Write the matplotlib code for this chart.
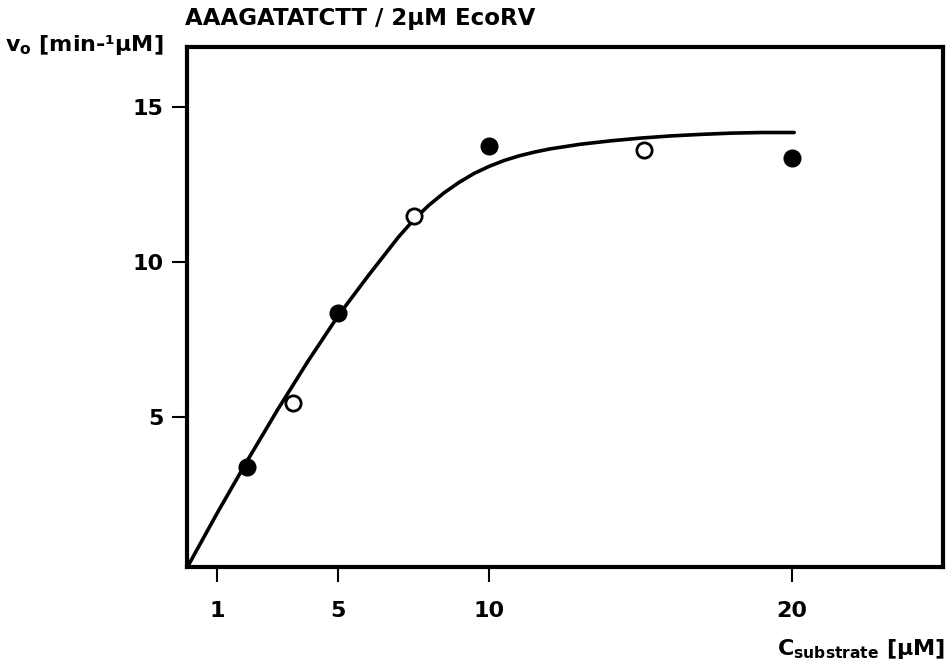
import numpy as np
import matplotlib
matplotlib.use("Agg")
import matplotlib.pyplot as plt

plt.rcParams['font.family'] = ['DejaVu Sans']
plt.rcParams['mathtext.default'] = 'bf'

# measured rates, filled and open symbols
x_filled = [2.0, 5.0, 10.0, 20.0]
y_filled = [3.39, 8.34, 13.74, 13.35]
x_open = [3.5, 7.5, 15.1]
y_open = [5.45, 11.48, 13.60]

# hand drawn fit curve
x_curve = [0.05, 1.0, 2.0, 3.0, 4.0, 5.0, 6.0, 7.0, 7.5, 8.0, 8.5, 9.0, 9.5,
           10.0, 10.5, 11.0, 11.5, 12.0, 13.0, 14.0, 15.0, 16.0, 17.0, 18.0,
           19.0, 20.08]
y_curve = [0.2, 1.88, 3.58, 5.22, 6.78, 8.25, 9.55, 10.8, 11.35, 11.82, 12.22,
           12.56, 12.85, 13.08, 13.27, 13.42, 13.54, 13.64, 13.79, 13.9, 13.99,
           14.06, 14.11, 14.15, 14.17, 14.17]

xticks = [1, 5, 10, 20]
yticks = [5, 10, 15]

fig = plt.figure(figsize=(9.53, 6.64), dpi=100)
ax = fig.add_axes([0.196, 0.1466, 0.7935, 0.7831])

ax.plot(x_curve, y_curve, color='black', lw=2.6, solid_capstyle='round',
        solid_joinstyle='round', zorder=2)
ax.plot(x_filled, y_filled, 'o', color='black', ms=12, zorder=3)
ax.plot(x_open, y_open, 'o', mfc='white', mec='black', mew=2, ms=11, zorder=3)

ax.set_xlim(0, 25)
ax.set_ylim(0.16, 16.94)
ax.set_xticks(xticks)
ax.set_yticks(yticks)
ax.tick_params(direction='out', length=11, width=1.5, labelsize=16, pad=14)
ax.tick_params(axis='y', pad=6)
for lab in ax.get_xticklabels() + ax.get_yticklabels():
    lab.set_fontweight('bold')
for s in ax.spines.values():
    s.set_linewidth(3)

fig.text(0.194, 0.972, 'AAAGATATCTT / 2µM EcoRV', fontsize=16.5, fontweight='bold',
         ha='left', va='center')
fig.text(0.005, 0.932, 'v$_o$ [min-¹µM]', fontsize=16, fontweight='bold',
         ha='left', va='center')
fig.text(0.992, 0.022, 'C$_{substrate}$ [µM]', fontsize=16, fontweight='bold',
         ha='right', va='center')

fig.savefig('out.png', dpi=100)
